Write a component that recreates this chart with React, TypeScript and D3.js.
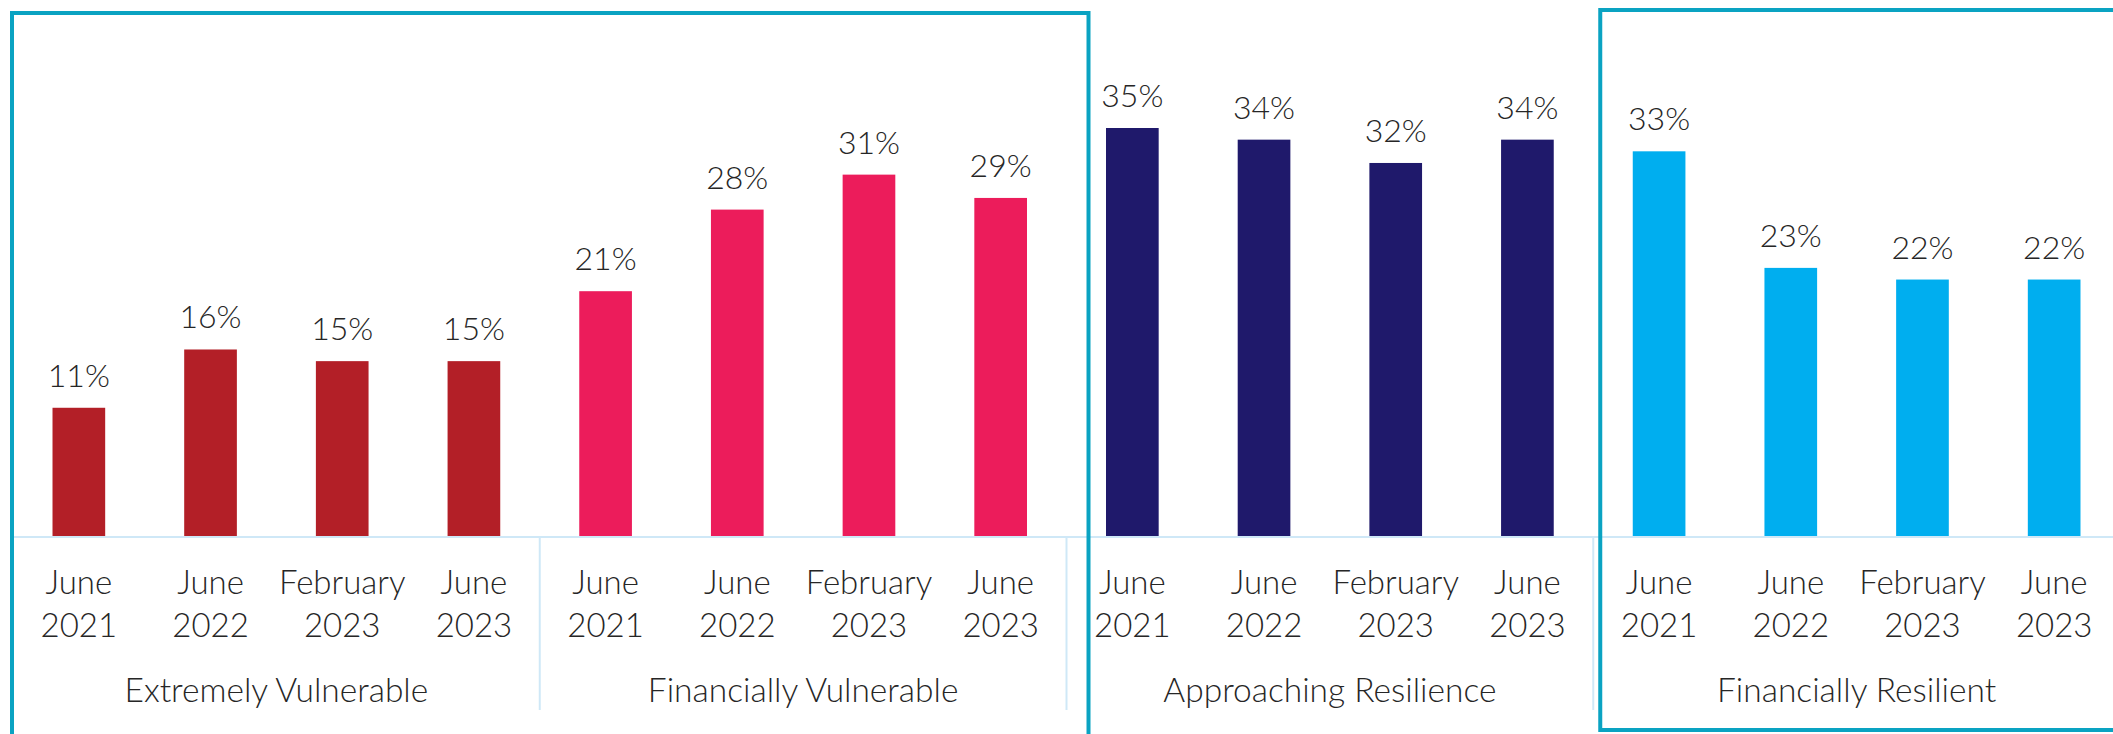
import React, { useEffect, useRef } from 'react'
import * as d3 from 'd3'

// data
const groups = ['Extremely Vulnerable', 'Financially Vulnerable', 'Approaching Resilience', 'Financially Resilient']
const periods = [['June', '2021'], ['June', '2022'], ['February', '2023'], ['June', '2023']]
const extremelyVulnerable = [11, 16, 15, 15]
const financiallyVulnerable = [21, 28, 31, 29]
const approachingResilience = [35, 34, 32, 34]
const financiallyResilient = [33, 23, 22, 22]
const groupColors = ['#b31f27', '#ec1c5b', '#1f196b', '#00aeef']

const W = 2113
const H = 734

const App = () => {
  const ref = useRef<SVGSVGElement | null>(null)

  useEffect(() => {
    const svg = d3.select(ref.current)
    svg.selectAll('*').remove()

    const seriesByGroup = [extremelyVulnerable, financiallyVulnerable, approachingResilience, financiallyResilient]
    const rows = groups.flatMap((g, gi) =>
      periods.map((p, pi) => ({ key: `${gi}-${pi}`, group: gi, period: p, value: seriesByGroup[gi][pi] }))
    )

    const left = 13
    const right = 2120
    const baseY = 536

    const x = d3.scaleBand<string>()
      .domain(rows.map(r => r.key))
      .range([left, right])
      .paddingInner(0.6)
      .paddingOuter(0.3)

    const gx = d3.scaleBand<string>()
      .domain(groups)
      .range([left, right])
      .padding(0)

    const y = d3.scaleLinear().domain([0, 35]).range([baseY, 128])

    const font = 'Lato, "Open Sans", sans-serif'
    const fontWeight = 300
    const textColor = '#262626'
    const lightLine = '#cfe8f7'
    const teal = '#0aa3c2'

    // axis line + separators
    svg.append('line')
      .attr('x1', left).attr('x2', W)
      .attr('y1', baseY + 1).attr('y2', baseY + 1)
      .attr('stroke', lightLine).attr('stroke-width', 2)

    const seps = groups.map(g => gx(g) as number).concat([right])
    svg.selectAll('line.sep')
      .data(seps)
      .enter()
      .append('line')
      .attr('class', 'sep')
      .attr('x1', d => d).attr('x2', d => d)
      .attr('y1', baseY + 1).attr('y2', 710)
      .attr('stroke', lightLine).attr('stroke-width', 2)

    // bars
    svg.selectAll('rect.bar')
      .data(rows)
      .enter()
      .append('rect')
      .attr('class', 'bar')
      .attr('x', d => x(d.key) as number)
      .attr('width', x.bandwidth())
      .attr('y', d => y(d.value))
      .attr('height', d => baseY - y(d.value))
      .attr('fill', d => groupColors[d.group])

    // value labels
    svg.selectAll('text.val')
      .data(rows)
      .enter()
      .append('text')
      .attr('class', 'val')
      .attr('x', d => (x(d.key) as number) + x.bandwidth() / 2)
      .attr('y', d => y(d.value) - 21)
      .attr('text-anchor', 'middle')
      .attr('font-family', font)
      .attr('font-size', 32)
      .attr('font-weight', fontWeight)
      .attr('fill', textColor)
      .text(d => `${d.value}%`)

    // period tick labels
    const ticks = svg.selectAll('text.tick')
      .data(rows)
      .enter()
      .append('text')
      .attr('class', 'tick')
      .attr('text-anchor', 'middle')
      .attr('font-family', font)
      .attr('font-size', 33)
      .attr('font-weight', fontWeight)
      .attr('fill', textColor)
    ticks.append('tspan')
      .attr('x', d => (x(d.key) as number) + x.bandwidth() / 2)
      .attr('y', 594)
      .text(d => d.period[0])
    ticks.append('tspan')
      .attr('x', d => (x(d.key) as number) + x.bandwidth() / 2)
      .attr('y', 637)
      .text(d => d.period[1])

    // group labels
    svg.selectAll('text.grp')
      .data(groups)
      .enter()
      .append('text')
      .attr('class', 'grp')
      .attr('x', d => (gx(d) as number) + gx.bandwidth() / 2)
      .attr('y', 702)
      .attr('text-anchor', 'middle')
      .attr('font-family', font)
      .attr('font-size', 33.5)
      .attr('font-weight', fontWeight)
      .attr('fill', textColor)
      .text(d => d)

    // highlight boxes
    const lx0 = (gx(groups[0]) as number) - 1
    const lx1 = (gx(groups[1]) as number) + gx.bandwidth() + 22
    svg.append('rect')
      .attr('x', lx0).attr('y', 13)
      .attr('width', lx1 - lx0).attr('height', 740)
      .attr('fill', 'none').attr('stroke', teal).attr('stroke-width', 4)

    const rx0 = (gx(groups[3]) as number) + 7
    svg.append('rect')
      .attr('x', rx0).attr('y', 10)
      .attr('width', W + 20 - rx0).attr('height', 720)
      .attr('fill', 'none').attr('stroke', teal).attr('stroke-width', 4)
  }, [])

  return (
    <svg ref={ref} width={W} height={H} style={{ position: 'absolute', left: 0, top: 0, background: '#fff' }}></svg>
  )
}

export default App
